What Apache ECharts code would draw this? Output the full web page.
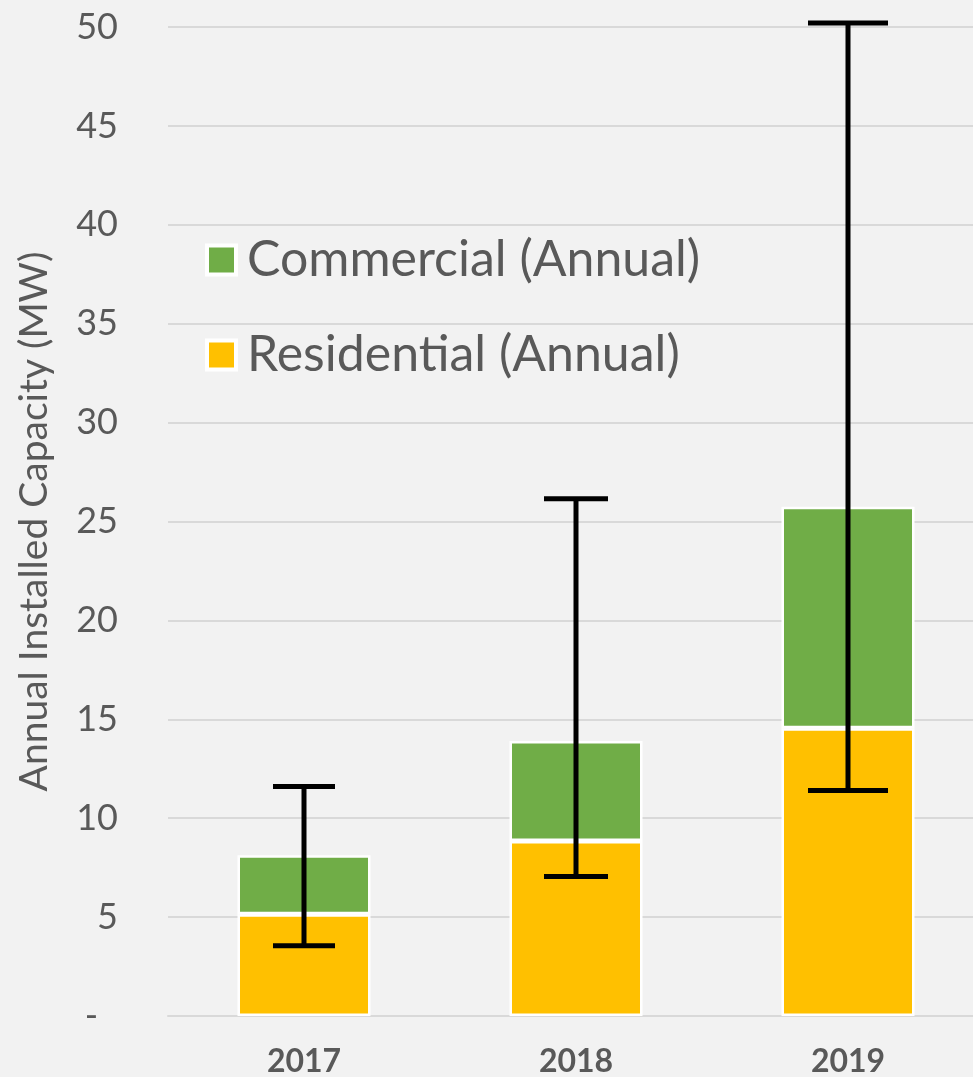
<!DOCTYPE html>
<html>
<head>
<meta charset="utf-8">
<script src="https://cdn.jsdelivr.net/npm/echarts@6/dist/echarts.min.js"></script>
<style>
html,body{margin:0;padding:0;background:#f2f2f2;}
#c{width:973px;height:1077px;}
</style>
</head>
<body>
<div id="c"></div>
<script>
const categories = ['2017', '2018', '2019'];
const residential = [5.15, 8.85, 14.55];
const commercial = [2.98, 5.05, 11.2];
const errLow = [3.55, 7.05, 11.4];
const errHigh = [11.6, 26.15, 50.2];
const yTicks = [0, 5, 10, 15, 20, 25, 30, 35, 40, 45, 50];

const capWidths = [62, 64, 80];
const textColor = '#595959';
const FONT = 'Lato, "Open Sans", sans-serif';

const errData = categories.map((c, i) => [i, errLow[i], errHigh[i]]);

const chart = echarts.init(document.getElementById('c'));
chart.setOption({
  backgroundColor: '#f2f2f2',
  animation: false,
  textStyle: { fontFamily: FONT },
  grid: { left: 168, top: 27, width: 816, height: 989, containLabel: false, outerBoundsMode: 'none' },
  legend: {
    orient: 'vertical',
    left: 205,
    top: 235,
    padding: 0,
    icon: 'rect',
    itemWidth: 29,
    itemHeight: 29,
    itemGap: 45,
    data: ['Commercial (Annual)', 'Residential (Annual)'],
    itemStyle: { borderColor: '#ffffff', borderWidth: 4 },
    textStyle: { fontSize: 50, color: textColor, fontFamily: FONT, padding: [0, 0, 0, 6] }
  },
  xAxis: {
    type: 'category',
    data: categories,
    axisLine: { show: true, lineStyle: { color: '#d9d9d9', width: 2 } },
    axisTick: { show: false },
    axisLabel: { fontSize: 32, fontWeight: 'bold', color: textColor, margin: 30, fontFamily: FONT }
  },
  yAxis: {
    type: 'value',
    min: yTicks[0],
    max: yTicks[yTicks.length - 1],
    interval: yTicks[1] - yTicks[0],
    name: 'Annual Installed Capacity (MW)',
    nameLocation: 'middle',
    nameGap: 114,
    nameTextStyle: { fontSize: 39, color: textColor, fontFamily: FONT },
    axisLine: { show: false },
    axisTick: { show: false },
    splitLine: { lineStyle: { color: '#d9d9d9', width: 2 } },
    axisLabel: {
      fontSize: 36,
      color: textColor,
      margin: 50,
      fontFamily: FONT,
      formatter: function (v) { return v === 0 ? '{d|-}' : String(v); },
      rich: { d: { fontSize: 36, color: textColor, padding: [0, 20, 0, 0], fontFamily: FONT } }
    }
  },
  series: [
    {
      name: 'Residential (Annual)',
      type: 'bar',
      stack: 'total',
      barWidth: 133,
      data: residential,
      itemStyle: { color: '#ffc000', borderColor: '#ffffff', borderWidth: 2.5 }
    },
    {
      name: 'Commercial (Annual)',
      type: 'bar',
      stack: 'total',
      barWidth: 133,
      data: commercial,
      itemStyle: { color: '#70ad47', borderColor: '#ffffff', borderWidth: 2.5 }
    },
    {
      name: 'error',
      type: 'custom',
      clip: false,
      z: 10,
      data: errData,
      renderItem: function (params, api) {
        const i = api.value(0);
        const lo = api.coord([i, api.value(1)]);
        const hi = api.coord([i, api.value(2)]);
        const hw = capWidths[params.dataIndex] / 2;
        const style = { stroke: '#000000', lineWidth: 5 };
        return {
          type: 'group',
          children: [
            { type: 'line', shape: { x1: lo[0], y1: lo[1], x2: hi[0], y2: hi[1] }, style: style },
            { type: 'line', shape: { x1: hi[0] - hw, y1: hi[1], x2: hi[0] + hw, y2: hi[1] }, style: style },
            { type: 'line', shape: { x1: lo[0] - hw, y1: lo[1], x2: lo[0] + hw, y2: lo[1] }, style: style }
          ]
        };
      }
    }
  ]
});
</script>
</body>
</html>
